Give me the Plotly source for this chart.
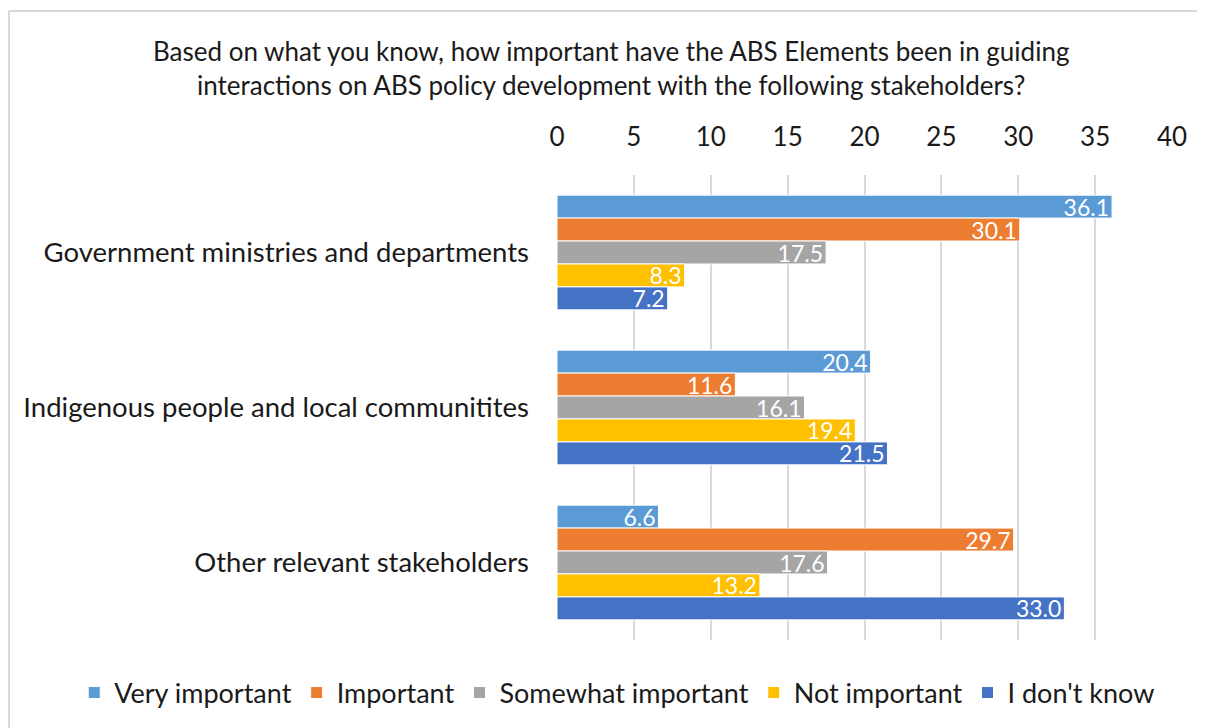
import plotly.graph_objects as go

categories = ["Government ministries and departments",
              "Indigenous people and local communitites",
              "Other relevant stakeholders"]
series_names = ["Very important", "Important", "Somewhat important", "Not important", "I don't know"]
very_important = [36.1, 20.4, 6.6]
important = [30.1, 11.6, 29.7]
somewhat_important = [17.5, 16.1, 17.6]
not_important = [8.3, 19.4, 13.2]
dont_know = [7.2, 21.5, 33.0]
colors = ["#5B9BD5", "#ED7D31", "#A5A5A5", "#FFC000", "#4472C4"]
x_ticks = [0, 5, 10, 15, 20, 25, 30, 35, 40]

FONT = "Lato"
TXT = "#1a1a1a"
fig = go.Figure()
for name, vals, col in zip(series_names,
                           [very_important, important, somewhat_important, not_important, dont_know],
                           colors):
    fig.add_trace(go.Bar(
        name=name, y=categories, x=vals, orientation="h",
        marker=dict(color=col, line=dict(color="white", width=1)),
        text=[f"{v:.1f}" for v in vals], textposition="inside",
        insidetextanchor="end", constraintext="none",
        textfont=dict(color="white", size=23, family=FONT),
    ))

border = dict(color="#D9D9D9", width=2)
fig.update_layout(
    width=1205, height=728,
    template="none",
    paper_bgcolor="white", plot_bgcolor="white",
    barmode="group", bargap=0.26, bargroupgap=0,
    margin=dict(l=549, r=41, t=167, b=96, autoexpand=False),
    font=dict(family=FONT, color=TXT),
    showlegend=True,
    legend=dict(orientation="h", x=-0.785, xanchor="left", y=-0.114, yanchor="middle",
                font=dict(size=27, family=FONT, color=TXT),
                traceorder="normal", itemwidth=30, bgcolor="rgba(0,0,0,0)"),
    xaxis=dict(side="top", range=[0, 40], tickvals=x_ticks, showgrid=True,
               gridcolor="#D9D9D9", gridwidth=1.5, zeroline=False, showline=False,
               ticks="", automargin=False,
               tickfont=dict(size=26, family=FONT, color=TXT),
               ticklabelstandoff=23, fixedrange=True),
    yaxis=dict(autorange="reversed", showgrid=False, showline=False, ticks="",
               zeroline=False, automargin=False,
               tickfont=dict(size=27.5, family=FONT, color=TXT),
               ticklabelstandoff=27),
    annotations=[dict(
        text="Based on what you know, how important have the ABS Elements been in guiding<br>interactions on ABS policy development with the following stakeholders?",
        xref="paper", yref="paper", x=0.0878, y=1.305, xanchor="center", yanchor="top",
        showarrow=False, font=dict(size=26, family=FONT, color=TXT), align="center")],
    shapes=[
        dict(type="line", xref="paper", yref="paper", x0=-0.8911, x1=1.2, y0=1.3527, y1=1.3527,
             line=border, layer="below"),
        dict(type="line", xref="paper", yref="paper", x0=-0.8911, x1=-0.8911, y0=-0.3, y1=1.3527,
             line=border, layer="below"),
    ],
)
fig.write_html("out.html")
